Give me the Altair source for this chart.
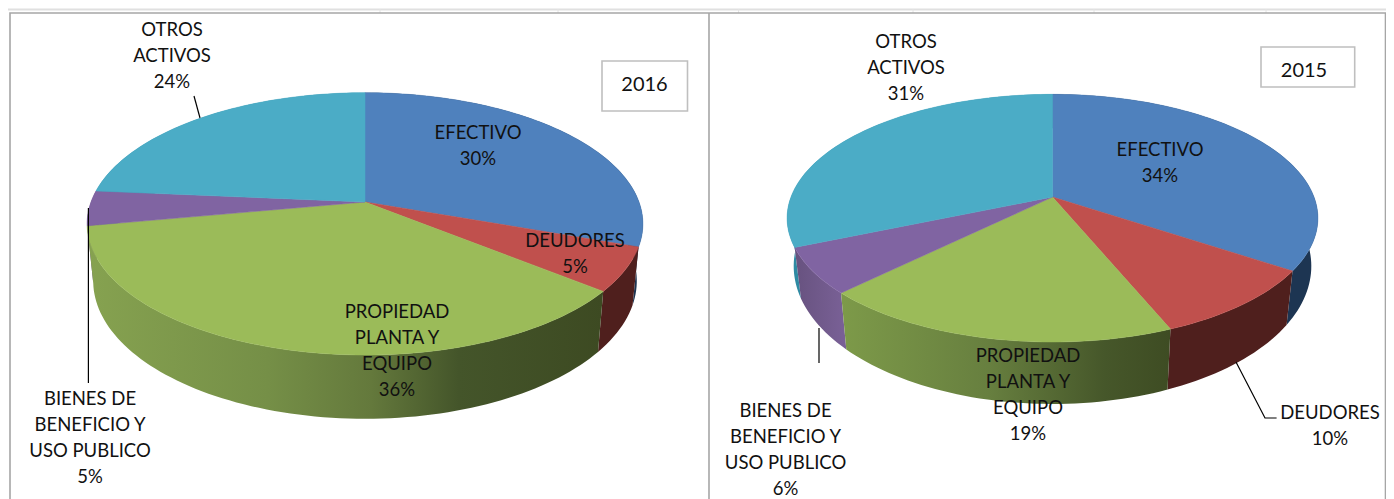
import math
import altair as alt

# ---- values ----
categories = ["EFECTIVO", "DEUDORES", "PROPIEDAD\nPLANTA Y\nEQUIPO", "BIENES DE\nBENEFICIO Y\nUSO PUBLICO", "OTROS\nACTIVOS"]
shares_2016 = [30.4, 5.4, 36.3, 4.3, 23.6]
shares_2015 = [34.4, 9.4, 18.8, 6.0, 31.4]
labels_2016 = ["30%", "5%", "36%", "5%", "24%"]
labels_2015 = ["34%", "10%", "19%", "6%", "31%"]
years = ["2016", "2015"]

# ---- layout and style ----
top_colors = ["#4f81bd", "#c0504d", "#9bbb59", "#8064a2", "#4bacc6"]


def grad(*stops):
    return alt.LinearGradient(
        gradient="linear", x1=0, x2=1, y1=0, y2=0,
        stops=[alt.GradientStop(offset=o, color=c) for o, c in stops],
    )


wall_2016 = [
    "#1d3552", "#4f1f1d",
    grad((0, "#86a250"), (0.35, "#758f47"), (0.55, "#64793c"), (0.72, "#44552a"), (1, "#3d4a22")),
    "#6a5480", "#2e8aa3",
]
wall_2015 = [
    "#1d3552", "#4f1f1d",
    grad((0, "#7d9a49"), (0.45, "#677f3f"), (0.8, "#46572a"), (1, "#3e4c23")),
    grad((0, "#67527f"), (1, "#7a6197")),
    "#2e8aa3",
]
geom_2016 = dict(cx=365, top=(202, 127.5, 274), bot=(258, 134, 268), c=-0.1666)
geom_2015 = dict(cx=1052.5, top=(197, 120.2, 261.5), bot=(242.6, 133.8, 255), c=-0.1708)
# anchor of each label: x centre, y of the first line
label_pos_2016 = [(478, 133), (575, 241), (397, 312), (90, 399), (172, 30)]
label_pos_2015 = [(1160, 150), (1330, 413), (1028, 356), (785.5, 410.5), (906, 42)]
FONT = "Lato"
FONT_SIZE = 18.5
LINE_H = 26
YEAR_SIZE = 20


def point(geom, level, theta_deg):
    y0, h, k = geom[level]
    t = math.radians(theta_deg)
    u, v = math.sin(t), -math.cos(t)
    den = 1 + geom["c"] * v
    return [geom["cx"] + k * u / den, y0 + h * v / den]


def arc(geom, level, a, b):
    n = max(2, int(abs(b - a) / 1.5))
    return [point(geom, level, a + (b - a) * i / n) for i in range(n + 1)]


def feature(ring):
    ring = ring + [ring[0]]
    return {"type": "Feature", "properties": {}, "geometry": {"type": "Polygon", "coordinates": [ring]}}


def pie_layers(shares, geom, walls):
    edges = [0.0]
    for s in shares:
        edges.append(edges[-1] + s * 3.6)
    layers = []
    for i in [4, 0, 3, 1, 2]:
        a, b = edges[i], edges[i + 1]
        ring = arc(geom, "top", a, b) + arc(geom, "bot", b, a)
        layers.append(alt.Chart(alt.Data(values=[feature(ring)])).mark_geoshape(fill=walls[i], stroke="transparent", strokeWidth=0))
    cy = [geom["cx"], geom["top"][0]]
    for i in range(5):
        a, b = edges[i], edges[i + 1]
        ring = [cy] + arc(geom, "top", a, b)
        layers.append(alt.Chart(alt.Data(values=[feature(ring)])).mark_geoshape(fill=top_colors[i], stroke=top_colors[i], strokeWidth=0.5))
    return layers


def polyline(pts, color, width):
    rows = [{"lon": p[0], "lat": p[1], "o": i} for i, p in enumerate(pts)]
    return alt.Chart(alt.Data(values=rows)).mark_line(color=color, strokeWidth=width, interpolate="linear").encode(
        longitude="lon:Q", latitude="lat:Q", order="o:Q"
    )


def rect(x0, y0, x1, y1, color, width):
    ring = [[x0, y0], [x1, y0], [x1, y1], [x0, y1]]
    return alt.Chart(alt.Data(values=[feature(ring)])).mark_geoshape(fill="#ffffff", stroke=color, strokeWidth=width)


layers = []

# spreadsheet remains behind the charts
layers.append(polyline([[8, 9.5], [1386, 9.5]], "#e0e0e0", 2))
for x in [380, 558, 738.6, 913, 1094, 1266]:
    layers.append(polyline([[x, 9], [x, 13]], "#e4e4e4", 1))

# panel frames
layers.append(polyline([[10, 499], [10, 13], [1385.5, 13], [1385.5, 499]], "#a6a6a6", 1.6))
layers.append(polyline([[709, 13], [709, 499]], "#a6a6a6", 1.6))

layers += pie_layers(shares_2016, geom_2016, wall_2016)
layers += pie_layers(shares_2015, geom_2015, wall_2015)

# leader lines
layers.append(polyline([[194, 96], [200, 118]], "#000000", 1.2))
layers.append(polyline([[88.4, 208], [88.4, 383]], "#000000", 1.2))
layers.append(polyline([[819, 328], [819, 363]], "#000000", 1.2))
layers.append(polyline([[1236, 362], [1265, 418], [1276.6, 418]], "#000000", 1.2))

# year boxes
layers.append(rect(602, 61, 687.5, 111, "#bfbfbf", 1.6))
layers.append(rect(1261, 47, 1354.7, 87, "#bfbfbf", 1.6))

rows = []
for cats, pcts, pos in [(categories, labels_2016, label_pos_2016), (categories, labels_2015, label_pos_2015)]:
    for c, p, (x, y) in zip(cats, pcts, pos):
        rows.append({"t": c + "\n" + p, "lon": x, "lat": y})

layers.append(
    alt.Chart(alt.Data(values=rows))
    .mark_text(font=FONT, fontSize=FONT_SIZE, lineBreak="\n", lineHeight=LINE_H, align="center", baseline="middle", color="#111111")
    .encode(longitude="lon:Q", latitude="lat:Q", text="t:N")
)

year_rows = [{"t": years[0], "lon": 644.5, "lat": 85}, {"t": years[1], "lon": 1304, "lat": 71}]
layers.append(
    alt.Chart(alt.Data(values=year_rows))
    .mark_text(font=FONT, fontSize=YEAR_SIZE, align="center", baseline="middle", color="#111111")
    .encode(longitude="lon:Q", latitude="lat:Q", text="t:N")
)

chart = (
    alt.layer(*layers)
    .project(type="identity", scale=1, translate=[-8, -8])
    .properties(width=1378, height=491, padding=0, autosize=alt.AutoSizeParams(type="none"), background="#ffffff")
    .configure_view(strokeWidth=0)
)

chart.save("out.html", embed_options={"renderer": "svg", "actions": False})
